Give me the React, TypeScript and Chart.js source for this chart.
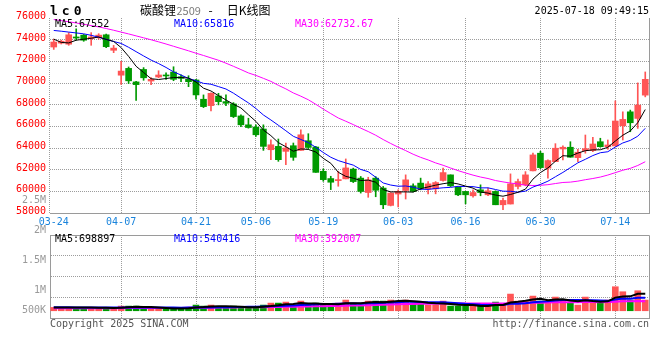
import React, { useEffect, useRef } from 'react';
import { Chart, registerables } from 'chart.js';

Chart.register(...registerables);

// ---------- text ----------
const symbol = 'lc0';
const titleParts = ['碳酸锂', '2509', '-', '日K线图'];
const timestamp = '2025-07-18 09:49:15';
const priceLegend = ['MA5:67552', 'MA10:65816', 'MA30:62732.67'];
const volumeLegend = ['MA5:698897', 'MA10:540416', 'MA30:392007'];
const volumeAxisLabels = ['2.5M', '2M', '1.5M', '1M', '500K'];
const footerLeft = 'Copyright 2025 SINA.COM';
const footerRight = 'http://finance.sina.com.cn';

// ---------- data ----------
const dates = ['03-24','03-25','03-26','03-27','03-28','03-31','04-01','04-02','04-03','04-07','04-08','04-09','04-10','04-11','04-14','04-15','04-16','04-17','04-18','04-21','04-22','04-23','04-24','04-25','04-28','04-29','04-30','05-06','05-07','05-08','05-09','05-12','05-13','05-14','05-15','05-16','05-19','05-20','05-21','05-22','05-23','05-26','05-27','05-28','05-29','05-30','06-03','06-04','06-05','06-06','06-09','06-10','06-11','06-12','06-13','06-16','06-17','06-18','06-19','06-20','06-23','06-24','06-25','06-26','06-27','06-30','07-01','07-02','07-03','07-04','07-07','07-08','07-09','07-10','07-11','07-14','07-15','07-16','07-17','07-18'];
const tickDates = ['03-24','04-07','04-21','05-06','05-19','06-03','06-16','06-30','07-14'];

const priceMin = 58000;
const priceMax = 76000;
const priceStep = 2000;

const opens = [73320,73680,73580,74250,74420,74100,74180,74450,73020,70720,
  71350,70100,71250,70180,70550,70720,71010,70580,70340,70280,
  68500,67910,68800,68280,68070,66960,66140,65930,65750,63840,
  64150,63690,64210,63780,64670,64090,61850,61180,60990,61150,
  62050,61220,59890,61220,60300,58700,59750,60080,60510,60760,
  60210,60230,61000,61520,60390,59990,59590,60140,59680,59990,
  58760,58830,60450,60600,61890,63520,62140,62740,63910,64070,
  63110,63760,63760,64580,64120,64190,66050,67340,66730,68880];
const highs = [74050,73950,74650,75000,74480,74650,74550,74520,73470,72000,
  71480,70150,71420,70500,71130,70950,71500,70760,70670,70340,
  68900,69100,69050,68900,68190,67060,66750,66140,66140,64760,
  64830,64460,64460,65680,65320,64150,62070,61390,61850,62990,
  62140,61370,61300,61360,60450,59880,60140,61520,60700,61220,
  60900,60900,62140,61520,60390,59990,60140,60600,60300,60050,
  59380,61610,61130,61820,63520,63700,62900,64400,64190,64580,
  63880,65200,64990,64900,64740,68350,67340,67500,70010,71020];
const lows = [73100,73600,73480,73950,73850,73480,74050,73250,72800,69880,
  69950,68400,70250,69850,70480,70340,70210,70120,69660,68500,
  67730,67420,67980,67910,66810,65980,65830,65060,63780,62920,
  62770,62460,62860,63780,63900,61750,60930,60160,60470,61150,
  60810,59840,59450,59500,58400,58650,58550,59290,59950,60140,
  59750,59770,60940,60440,59590,58850,59470,59590,59590,58760,
  58300,58830,60230,60510,61890,62100,61220,62740,62900,63150,
  62740,63520,63660,64070,63880,64190,64740,65500,65810,68720];
const closes = [73780,73860,74450,74150,73950,74250,74420,73350,73220,71100,
  70200,69850,70480,70340,70740,70650,70340,70430,70120,68900,
  67820,69050,68280,68130,66900,66140,65890,65220,64150,64300,
  62920,64000,63140,65220,64050,61750,61080,60840,61080,62160,
  60900,59990,61060,60100,58760,59840,59990,61060,59990,60300,
  60690,60810,61730,60510,59680,59680,59890,59890,60050,58760,
  59160,60690,60900,61520,63360,62190,62840,63980,64070,63150,
  63610,63940,64370,64120,64280,66490,66640,66330,67960,70340];

const ma5 = [74050,73750,73700,73950,74038,74132,74244,74024,73838,73268,
  72458,71544,70970,70394,70322,70412,70510,70500,70456,70088,
  69522,69264,68834,68436,68036,67700,67068,66456,65660,65140,
  64496,64118,63702,63916,63866,63632,63048,62588,61760,61382,
  61212,60994,61038,60842,60162,59950,59950,59950,59928,60236,
  60406,60570,60704,60808,60684,60482,60298,59930,59838,59654,
  59550,59710,59912,60206,61126,61732,62162,62778,63288,63246,
  63530,63750,63828,63838,64064,64640,65180,65572,66340,67552];
const ma10 = [74850,74780,74700,74620,74540,74400,74230,74030,73830,73653,
  73295,72894,72497,72116,71795,71435,71027,70735,70425,70205,
  69967,69887,69667,69446,69062,68611,68166,67645,67048,66588,
  66098,65593,65079,64788,64503,64064,63583,63145,62838,62624,
  62422,62021,61813,61301,60772,60581,60472,60494,60385,60199,
  60178,60260,60327,60368,60460,60444,60434,60317,60323,60169,
  60016,60004,59921,60022,60390,60641,60936,61345,61747,62186,
  62631,62956,63303,63563,63655,64085,64465,64700,65089,65816];
const ma30 = [75860,75760,75650,75540,75420,75300,75180,75030,74870,74700,
  74530,74350,74170,73990,73800,73600,73390,73180,72970,72750,
  72540,72320,72100,71830,71540,71240,70930,70700,70430,70149,
  69787,69458,69081,68783,68453,68037,67592,67175,66770,66472,
  66162,65834,65520,65178,64779,64419,64074,63761,63424,63137,
  62899,62625,62406,62152,61912,61696,61496,61319,61182,60997,
  60872,60762,60687,60564,60541,60555,60614,60719,60818,60851,
  60942,61073,61184,61318,61502,61723,61945,62121,62386,62733];

const volumes = [138000,138000,138000,138000,138000,97000,97000,138000,97000,193000,
  193000,193000,97000,97000,97000,97000,97000,97000,138000,235000,
  193000,235000,138000,138000,193000,138000,138000,138000,235000,317000,
  317000,359000,193000,400000,235000,317000,235000,235000,317000,442000,
  317000,235000,400000,400000,400000,442000,359000,442000,317000,317000,
  235000,235000,400000,193000,193000,193000,193000,235000,193000,359000,
  235000,690000,400000,400000,607000,400000,359000,566000,442000,359000,
  235000,566000,400000,317000,442000,994000,787000,442000,828000,442000];
const volMa5 = [138000,138000,138000,138000,138000,130000,122000,122000,113000,124000,
  144000,163000,155000,155000,135000,116000,97000,97000,105000,133000,
  152000,180000,188000,188000,179000,168000,149000,149000,168000,193000,
  229000,273000,284000,317000,301000,301000,276000,284000,268000,309000,
  309000,309000,342000,359000,350000,375000,400000,409000,392000,375000,
  334000,309000,301000,276000,251000,243000,234000,201000,201000,235000,
  243000,342000,375000,417000,466000,499000,433000,466000,475000,425000,
  392000,434000,400000,375000,392000,544000,588000,596000,699000,698897];
const volMa10 = [140000,140000,140000,139000,139000,138000,137000,135000,133000,131000,
  137000,142000,138000,134000,130000,130000,130000,126000,130000,134000,
  134000,138000,142000,147000,156000,160000,164000,168000,178000,186000,
  199000,211000,217000,243000,247000,265000,275000,284000,293000,305000,
  305000,293000,313000,313000,330000,342000,355000,375000,375000,363000,
  355000,355000,355000,334000,313000,288000,272000,251000,239000,243000,
  243000,288000,288000,309000,351000,371000,388000,421000,446000,446000,
  446000,433000,433000,425000,409000,468000,511000,498000,537000,540416];
const volMa30 = [100000,100000,101000,102000,103000,104000,105000,106000,107000,108000,
  110000,112000,113000,114000,115000,116000,117000,118000,120000,122000,
  125000,128000,131000,134000,137000,140000,143000,146000,149000,151000,
  157000,164000,166000,174000,178000,185000,190000,193000,200000,208000,
  213000,214000,224000,234000,244000,256000,265000,276000,282000,285000,
  286000,286000,295000,297000,297000,299000,300000,304000,302000,304000,
  301000,312000,319000,319000,331000,334000,338000,349000,353000,351000,
  348000,359000,359000,356000,357000,376000,390000,390000,407000,392007];

const volMin = -300000;
const volMax = 3135000;

// ---------- style ----------
const RED = '#ff5555';
const GREEN = '#009a00';
const LINE_COLORS = ['#000000', '#0000ff', '#ff00ff'];
const GRID = '#9c9c9c';
const BORDER = '#9a9a9a';
const PRICE_TEXT = '#ff0000';
const DATE_TEXT = '#1a84dc';
const FONT_MONO = '"DejaVu Sans Mono", "Liberation Mono", monospace';
const FONT_CJK = '"Noto Sans CJK SC", sans-serif';
const DOTS = [1, 1];
const CLEAR = 'rgba(0,0,0,0)';

const isUp = (i: number) => closes[i] >= opens[i];
const candleColor = (c: any) => (isUp(c.dataIndex) ? RED : GREEN);
const filterDateTicks = (scale: any) => {
  scale.ticks = scale.ticks.filter((t: any) => tickDates.includes(dates[t.value]));
};
const xGridColor = (c: any) => (c.tick && c.tick.value === 0 ? CLEAR : GRID);

const mainTextPlugin = {
  id: 'mainText',
  afterDraw(chart: any) {
    const { ctx, chartArea: a } = chart;
    ctx.save();
    ctx.lineWidth = 1;
    // left border (dotted) and right border (solid)
    const lx0 = Math.round(a.left) - 0.5;
    ctx.strokeStyle = GRID;
    ctx.setLineDash(DOTS);
    ctx.beginPath();
    ctx.moveTo(lx0, a.top);
    ctx.lineTo(lx0, a.bottom);
    ctx.stroke();
    ctx.setLineDash([]);
    ctx.strokeStyle = BORDER;
    const rx = Math.round(a.right) + 0.5;
    ctx.beginPath();
    ctx.moveTo(rx, a.top);
    ctx.lineTo(rx, a.bottom);
    ctx.stroke();

    ctx.textBaseline = 'middle';
    ctx.textAlign = 'left';
    ctx.fillStyle = '#000';
    ctx.font = `bold 13px ${FONT_MONO}`;
    (ctx as any).letterSpacing = '4px';
    ctx.fillText(symbol, a.left, 11.5);
    (ctx as any).letterSpacing = '0px';

    ctx.font = `12px ${FONT_CJK}`;
    const tx = 140;
    ctx.fillText(titleParts[0], tx, 10);
    const w0 = ctx.measureText(titleParts[0]).width;
    ctx.font = `11px ${FONT_CJK}`;
    ctx.fillStyle = '#7a7a7a';
    ctx.fillText(titleParts[1], tx + w0 + 0.5, 10.5);
    ctx.fillStyle = '#000';
    ctx.font = `12px ${FONT_CJK}`;
    ctx.textAlign = 'center';
    ctx.fillText(titleParts[2], tx + 70.5, 10);
    ctx.textAlign = 'left';
    ctx.fillText(titleParts[3], tx + 86.7, 10);

    ctx.font = `10px ${FONT_MONO}`;
    ctx.textAlign = 'right';
    ctx.fillText(timestamp, a.right, 11.5);

    ctx.textAlign = 'left';
    const lx = [5, 124, 245];
    priceLegend.forEach((t, i) => {
      ctx.fillStyle = LINE_COLORS[i];
      ctx.fillText(t, a.left + lx[i], a.top + 6);
    });
    ctx.restore();
  },
};

const volTextPlugin = {
  id: 'volText',
  afterDraw(chart: any) {
    const { ctx, chartArea: a } = chart;
    ctx.save();
    ctx.strokeStyle = BORDER;
    ctx.lineWidth = 1;
    const ty = Math.round(a.top) + 0.5;
    const rx = Math.round(a.right) + 0.5;
    ctx.beginPath();
    ctx.moveTo(a.left, ty);
    ctx.lineTo(rx, ty);
    ctx.lineTo(rx, a.bottom);
    ctx.stroke();

    ctx.font = `10px ${FONT_MONO}`;
    ctx.textBaseline = 'middle';
    ctx.textAlign = 'left';
    const lx = [5, 124, 245];
    volumeLegend.forEach((t, i) => {
      ctx.fillStyle = LINE_COLORS[i];
      ctx.fillText(t, a.left + lx[i], a.top + 4);
    });

    ctx.fillStyle = '#9a9a9a';
    ctx.textAlign = 'right';
    volumeAxisLabels.forEach((t, k) => {
      const y = Math.min(a.top - 35 + 30.3 * k, a.bottom - 8);
      ctx.fillText(t, a.left - 4, y);
    });

    ctx.fillStyle = '#555';
    ctx.textAlign = 'left';
    ctx.fillText(footerLeft, a.left, a.bottom + 6);
    ctx.textAlign = 'right';
    ctx.fillText(footerRight, a.right, a.bottom + 6);
    ctx.restore();
  },
};

export default function App() {
  const mainRef = useRef<HTMLCanvasElement>(null);
  const volRef = useRef<HTMLCanvasElement>(null);

  useEffect(() => {
    if (!mainRef.current || !volRef.current) return;
    const lineDs = (label: string, data: number[], color: string, width: number) => ({
      type: 'line' as const,
      label,
      data,
      borderColor: color,
      borderWidth: width,
      pointRadius: 0,
      fill: false,
      tension: 0,
      order: 0,
    });

    const main = new Chart(mainRef.current, {
      type: 'bar',
      data: {
        labels: dates,
        datasets: [
          lineDs('MA5', ma5, LINE_COLORS[0], 1),
          lineDs('MA10', ma10, LINE_COLORS[1], 1),
          lineDs('MA30', ma30, LINE_COLORS[2], 1),
          {
            type: 'bar',
            label: 'body',
            data: opens.map((o, i) => [o, closes[i]]),
            backgroundColor: candleColor,
            barThickness: 6,
            minBarLength: 1,
            grouped: false,
            order: 1,
          } as any,
          {
            type: 'bar',
            label: 'wick',
            data: lows.map((l, i) => [l, highs[i]]),
            backgroundColor: candleColor,
            barThickness: 1,
            grouped: false,
            order: 2,
          } as any,
        ],
      },
      options: {
        responsive: false,
        animation: false,
        events: [],
        layout: { padding: { top: 18, left: 0, right: 11, bottom: 127 } },
        plugins: { legend: { display: false }, tooltip: { enabled: false } },
        scales: {
          x: {
            offset: true,
            afterBuildTicks: filterDateTicks,
            afterFit: (s: any) => { s.height = 20; },
            grid: { offset: false, color: xGridColor, drawTicks: false },
            border: { color: BORDER, dash: DOTS },
            ticks: {
              autoSkip: false,
              maxRotation: 0,
              padding: 3,
              color: DATE_TEXT,
              font: { family: FONT_MONO, size: 10 },
            },
          },
          y: {
            min: priceMin,
            max: priceMax,
            afterFit: (s: any) => { s.width = 50; },
            grid: {
              drawTicks: false,
              color: (c: any) => (c.tick && (c.tick.value === priceMin || c.tick.value === priceMax) ? CLEAR : GRID),
            },
            border: { display: false, dash: DOTS },
            ticks: {
              stepSize: priceStep,
              padding: 4,
              labelOffset: -1.5,
              color: PRICE_TEXT,
              font: { family: FONT_MONO, size: 10 },
              callback: (v: any) => String(v),
            },
          },
        },
      } as any,
      plugins: [mainTextPlugin],
    });

    const vol = new Chart(volRef.current, {
      type: 'bar',
      data: {
        labels: dates,
        datasets: [
          lineDs('MA5', volMa5, LINE_COLORS[0], 2),
          lineDs('MA10', volMa10, LINE_COLORS[1], 2),
          lineDs('MA30', volMa30, LINE_COLORS[2], 2),
          {
            type: 'bar',
            label: 'volume',
            data: volumes,
            backgroundColor: candleColor,
            barThickness: 6,
            grouped: false,
            order: 1,
          } as any,
        ],
      },
      options: {
        responsive: false,
        animation: false,
        events: [],
        layout: { padding: { top: 235, left: 0, right: 11, bottom: 42 } },
        plugins: { legend: { display: false }, tooltip: { enabled: false } },
        scales: {
          x: {
            offset: true,
            afterBuildTicks: filterDateTicks,
            afterFit: (s: any) => { s.height = 0; },
            grid: { offset: false, color: xGridColor, drawTicks: false },
            border: { color: BORDER, dash: DOTS },
            ticks: { display: false, autoSkip: false },
          },
          y: {
            min: volMin,
            max: volMax,
            afterFit: (s: any) => { s.width = 50; },
            afterBuildTicks: (s: any) => {
              const step = (volMax - volMin) / 4;
              s.ticks = [0, 1, 2, 3, 4].map((k) => ({ value: volMin + step * k }));
            },
            grid: {
              drawTicks: false,
              color: (c: any) => (c.index === 0 || c.index === 4 ? CLEAR : GRID),
            },
            border: { color: BORDER, dash: DOTS },
            ticks: { display: false },
          },
        },
      } as any,
      plugins: [volTextPlugin],
    });

    return () => {
      main.destroy();
      vol.destroy();
    };
  }, []);

  return (
    <div style={{ position: 'absolute', left: 0, top: 0, width: 660, height: 360, background: '#fff' }}>
      <canvas ref={mainRef} width={660} height={360} style={{ position: 'absolute', left: 0, top: 0 }} />
      <canvas ref={volRef} width={660} height={360} style={{ position: 'absolute', left: 0, top: 0 }} />
    </div>
  );
}
